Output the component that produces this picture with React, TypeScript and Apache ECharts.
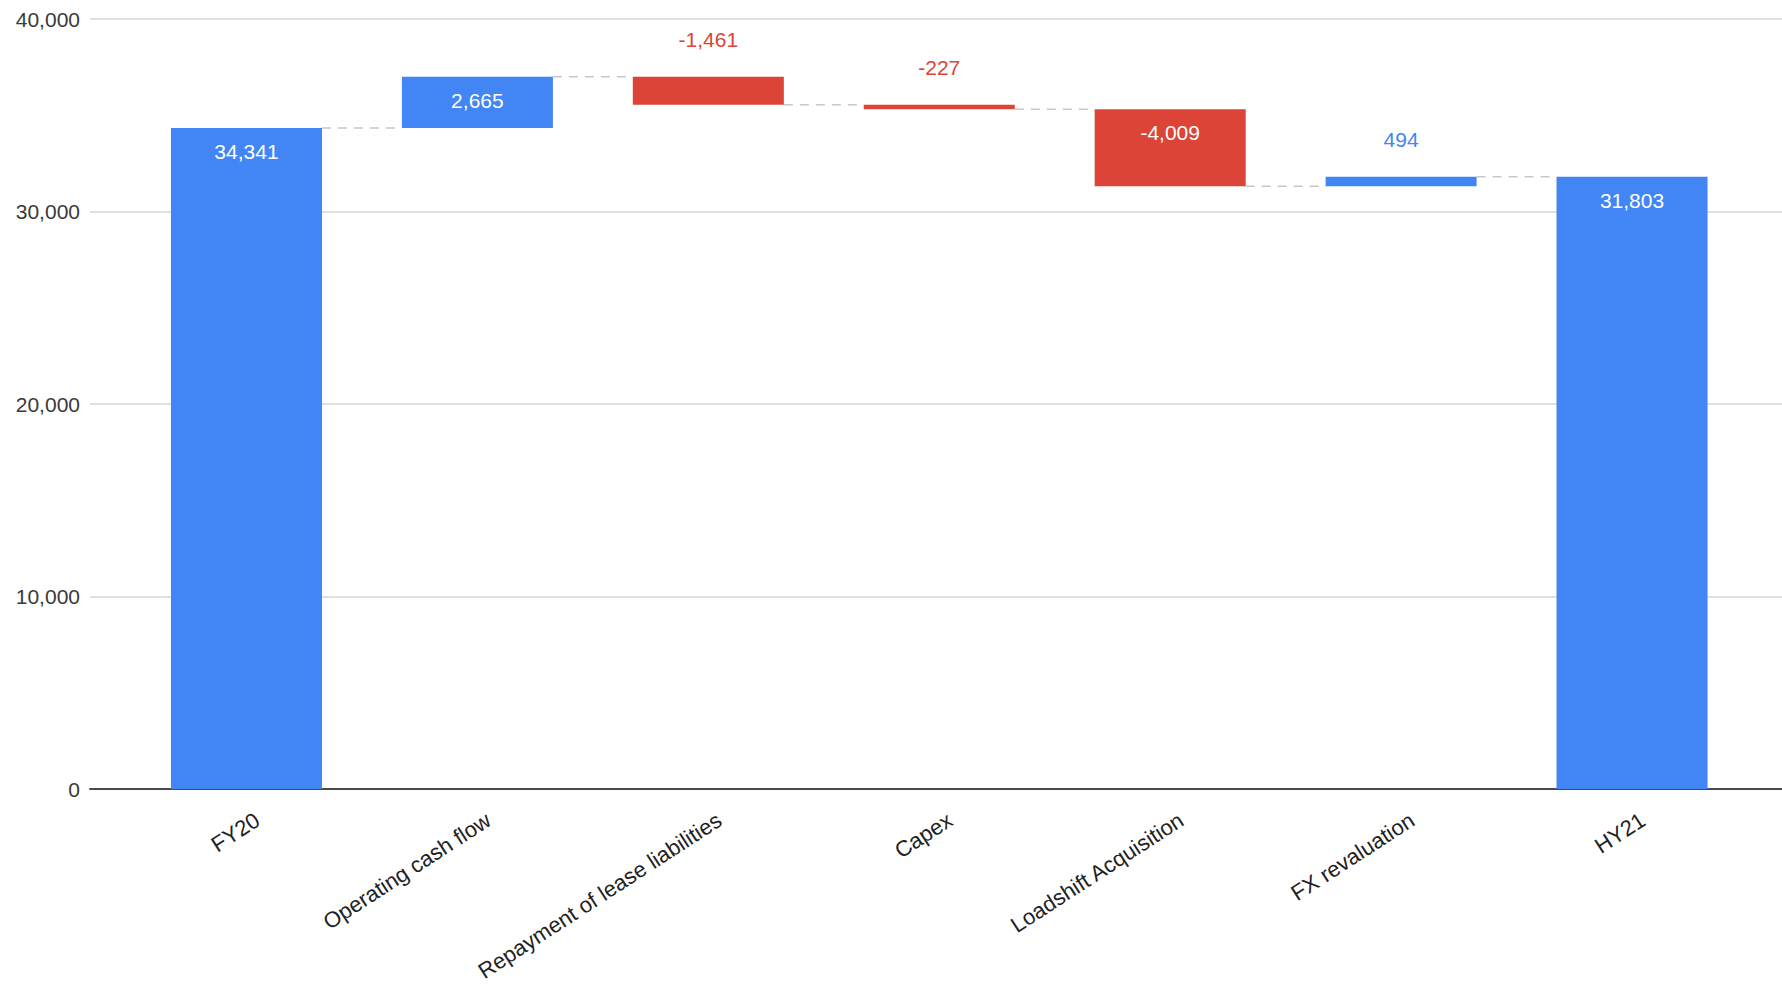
import React, { useEffect, useRef } from "react";
import * as echarts from "echarts";

const categories = [
  "FY20",
  "Operating cash flow",
  "Repayment of lease liabilities",
  "Capex",
  "Loadshift Acquisition",
  "FX revaluation",
  "HY21",
];
const changes = [34341, 2665, -1461, -227, -4009, 494, 31803];
const isTotal = [true, false, false, false, false, false, true];
const yMin = 0;
const yMax = 40000;
const yInterval = 10000;

const BLUE = "#4285f4";
const RED = "#db4437";
const FONT = "'Liberation Sans', Arial, sans-serif";

const fmt = (v: number) => v.toLocaleString("en-US");

export default function App() {
  const ref = useRef<HTMLDivElement>(null);

  useEffect(() => {
    if (!ref.current) return;
    const chart = echarts.init(ref.current, undefined, { renderer: "svg" });

    let running = 0;
    const bases: number[] = [];
    const heights: number[] = [];
    const ends: number[] = [];
    changes.forEach((v, i) => {
      if (isTotal[i]) {
        bases.push(0);
        heights.push(v);
        running = v;
      } else {
        const start = running;
        const end = running + v;
        bases.push(Math.min(start, end));
        heights.push(Math.abs(v));
        running = end;
      }
      ends.push(running);
    });

    const deltaData = changes.map((v, i) => {
      const color = v >= 0 ? BLUE : RED;
      const inside = Math.abs(v) >= 2000;
      return {
        value: heights[i],
        itemStyle: { color },
        label: {
          show: true,
          position: inside ? "insideTop" : "top",
          distance: inside ? 13 : 27,
          color: inside ? "#ffffff" : color,
          fontSize: 21,
          fontFamily: FONT,
          formatter: () => fmt(v),
        },
      };
    });

    const connectorData = ends.slice(0, -1).map((v, i) => [i, v]);

    const grids = [
      { left: 90, right: 0, top: 19, bottom: 195 },
      { left: 131, right: 34.5, top: 19, bottom: 195 },
      { left: 142, right: 23.5, top: 19, bottom: 195 },
    ];

    chart.setOption({
      animation: false,
      backgroundColor: "#ffffff",
      grid: grids,
      xAxis: [
        {
          gridIndex: 0,
          type: "value",
          min: 0,
          max: 1,
          axisLine: { show: true, lineStyle: { color: "#4a4a4a", width: 2 } },
          axisTick: { show: false },
          axisLabel: { show: false },
          splitLine: { show: false },
        },
        {
          gridIndex: 1,
          type: "category",
          data: categories,
          axisLine: { show: false },
          axisTick: { show: false },
          axisLabel: { show: false },
        },
        {
          gridIndex: 2,
          type: "category",
          data: categories,
          axisLine: { show: false },
          axisTick: { show: false },
          axisLabel: {
            interval: 0,
            rotate: 33,
            margin: 30,
            fontSize: 22,
            color: "#222222",
            fontFamily: FONT,
          },
        },
      ],
      yAxis: [
        {
          gridIndex: 0,
          type: "value",
          min: yMin,
          max: yMax,
          interval: yInterval,
          axisLine: { show: false },
          axisTick: { show: false },
          axisLabel: {
            margin: 10,
            fontSize: 21,
            color: "#3a3a3a",
            fontFamily: FONT,
            formatter: (v: number) => fmt(v),
          },
          splitLine: { lineStyle: { color: "#d6d6d6", width: 1.5 } },
        },
        { gridIndex: 1, type: "value", min: yMin, max: yMax, show: false, splitLine: { show: false } },
        { gridIndex: 2, type: "value", min: yMin, max: yMax, show: false, splitLine: { show: false } },
      ],
      series: [
        {
          type: "custom",
          name: "connectors",
          xAxisIndex: 1,
          yAxisIndex: 1,
          silent: true,
          z: 1,
          data: connectorData,
          renderItem: (params: any, api: any) => {
            const p = api.coord([api.value(0), api.value(1)]);
            const band = api.size([1, 0])[0];
            const hw = (band * 0.654) / 2;
            return {
              type: "line",
              shape: { x1: p[0] + hw, y1: p[1], x2: p[0] + band - hw, y2: p[1] },
              style: { stroke: "#c8c8c8", lineWidth: 1.5, lineDash: [9, 7] },
            };
          },
        },
        {
          type: "bar",
          name: "base",
          stack: "w",
          xAxisIndex: 1,
          yAxisIndex: 1,
          barWidth: "65.4%",
          silent: true,
          itemStyle: { color: "transparent" },
          data: bases,
          z: 2,
        },
        {
          type: "bar",
          name: "delta",
          stack: "w",
          xAxisIndex: 1,
          yAxisIndex: 1,
          barWidth: "65.4%",
          data: deltaData,
          z: 3,
        },
      ],
    });

    return () => chart.dispose();
  }, []);

  return (
    <div
      ref={ref}
      style={{ position: "absolute", left: 0, top: 0, width: 1782, height: 984, background: "#fff" }}
    />
  );
}
